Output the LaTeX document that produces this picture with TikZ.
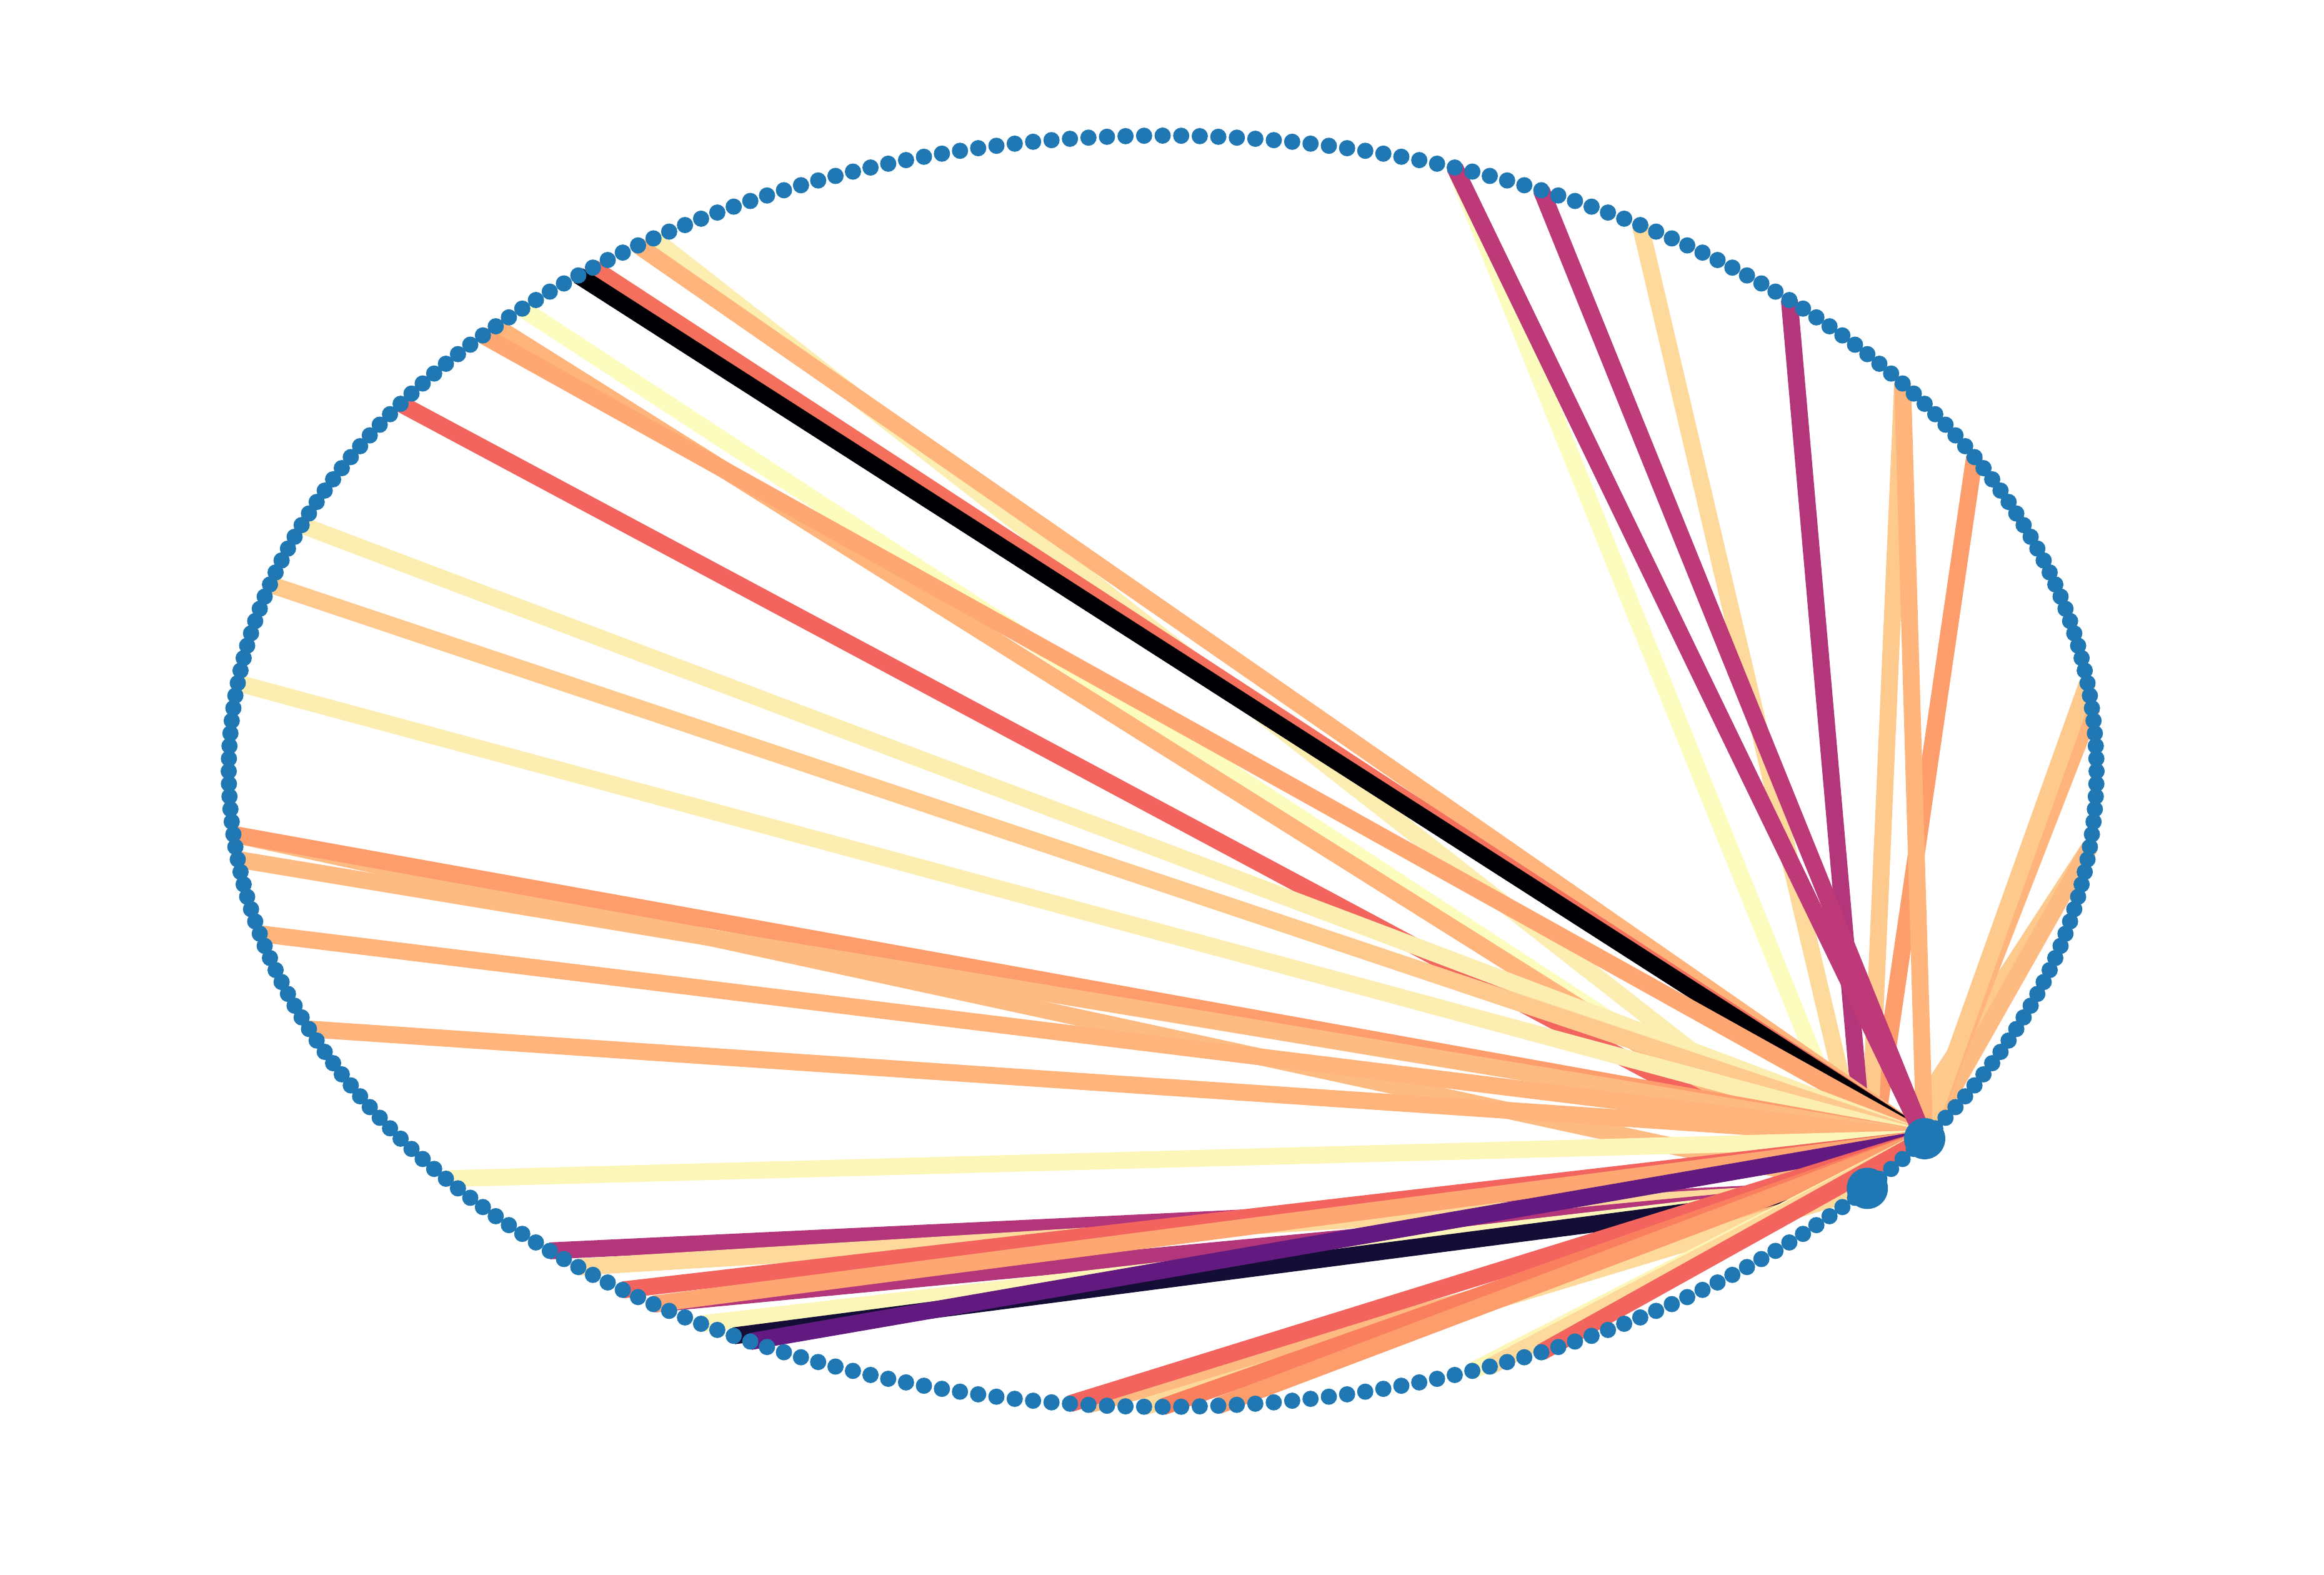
\documentclass[tikz,border=0pt]{standalone}
\usetikzlibrary{positioning}

\pgfdeclarelayer{edges}
\pgfsetlayers{edges,main}

\definecolor{nodeblue}{HTML}{1F77B4}
\definecolor{cBlack}{HTML}{000004}
\definecolor{cNavy}{HTML}{140E36}
\definecolor{cPurple}{HTML}{631A80}
\definecolor{cMagenta}{HTML}{BD3977}
\definecolor{cPlum}{HTML}{B3357A}
\definecolor{cSalmon}{HTML}{F2645D}
\definecolor{cSalmonL}{HTML}{F56F5D}
\definecolor{cCoral}{HTML}{F97F5E}
\definecolor{cOrange}{HTML}{FD9D6C}
\definecolor{cOrangeL}{HTML}{FEA772}
\definecolor{cApricot}{HTML}{FEB47B}
\definecolor{cApricotL}{HTML}{FEBB81}
\definecolor{cPeach}{HTML}{FEC98D}
\definecolor{cWheat}{HTML}{FDDA9C}
\definecolor{cCream}{HTML}{FCEDB0}
\definecolor{cLemon}{HTML}{FCF6B9}
\definecolor{cLemonL}{HTML}{FCFCBE}

\begin{document}
\begin{tikzpicture}[
  dot/.style={circle, fill=nodeblue, inner sep=0pt, minimum size=0.26cm},
  bigdot/.style={circle, fill=nodeblue, inner sep=0pt, minimum size=0.66cm},
  link/.style={line width=0.27cm}]

  \useasboundingbox (0,0) rectangle (37.19,25.19);

  \begin{scope}[shift={(18.605,12.85)}]
    \foreach \i [evaluate=\i as \ang using 360/316*\i] in {0,...,315}
      \node[dot] (n\i) at (\ang:14.945 and 10.17) {};
  \end{scope}
  \node[bigdot] (sec) at (n280) {};
  \node[bigdot] (hub) at (n285) {};

  \begin{pgfonlayer}{edges}
    % edges to the second node
    \foreach \k/\c in {117/cLemonL, 119/cApricot, 127/cSalmon, 163/cApricotL,
        201/cPlum, 203/cWheat, 208/cPlum, 211/cLemon, 213/cNavy, 233/cApricotL,
        236/cWheat, 310/cPeach, 26/cOrange, 33/cPeach, 42/cPlum, 52/cWheat,
        63/cLemonL, 108/cCream}
      \draw[link, draw=\c] (n\k.center) -- (sec.center);
    % edges to the hub
    \foreach \k/\c in {109/cApricot, 112/cSalmonL, 113/cBlack, 120/cOrangeL,
        138/cCream, 143/cPeach, 151/cCream, 163/cOrange, 165/cApricotL,
        171/cApricot, 179/cApricot, 193/cLemon, 206/cSalmon, 208/cOrangeL,
        214/cPurple, 232/cSalmon, 237/cCoral, 240/cOrange, 254/cLemon,
        255/cWheat, 258/cSalmon, 310/cApricotL, 5/cApricot, 7/cPeach,
        33/cApricot, 58/cMagenta, 63/cMagenta}
      \draw[link, draw=\c] (n\k.center) -- (hub.center);
  \end{pgfonlayer}
\end{tikzpicture}
\end{document}
